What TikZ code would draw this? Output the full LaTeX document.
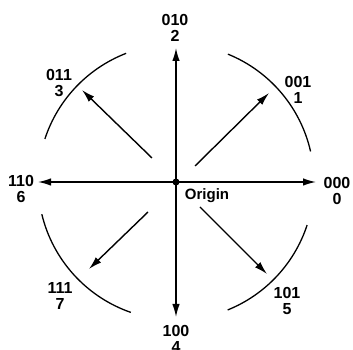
\documentclass[tikz,border=0pt]{standalone}
\usepackage{fontspec}
\setmainfont{Liberation Sans}
\usetikzlibrary{arrows.meta}
\tikzset{
  vec/.style={line width=1.4pt,-{Latex[length=13pt,width=7.5pt]}},
  rim/.style={line width=1.3pt},
  lbl/.style={align=center,inner sep=0pt,font=\fontsize{16}{16}\selectfont\bfseries},
}
\begin{document}
\begin{tikzpicture}[x=1pt,y=1pt]
\useasboundingbox (0,0) rectangle (353,350);
\coordinate (O) at (176,168);
% arcs
\draw[rim] (O) ++(67.9:138) arc[start angle=67.9,end angle=12.8,radius=138];
\draw[rim] (O) ++(111.2:138) arc[start angle=111.2,end angle=161.8,radius=138];
\draw[rim] (O) ++(193.5:138) arc[start angle=193.5,end angle=250.9,radius=138];
\draw[rim] (O) ++(292:138) arc[start angle=292,end angle=341.8,radius=138];
% end points
\coordinate (up) at (176,302);
\coordinate (dn) at (176,33);
\coordinate (lf) at (38,168);
\coordinate (rt) at (316,168);
\coordinate (neS) at (195,184);
\coordinate (neE) at (269,257);
\coordinate (nwS) at (152,192);
\coordinate (nwE) at (82,260);
\coordinate (swS) at (148,138);
\coordinate (swE) at (89,81);
\coordinate (seS) at (200,143);
\coordinate (seE) at (267,76);
% arrows
\draw[vec] (O) -- (up);
\draw[vec] (O) -- (dn);
\draw[vec] (O) -- (lf);
\draw[vec] (O) -- (rt);
\draw[vec] (neS) -- (neE);
\draw[vec] (nwS) -- (nwE);
\draw[vec] (swS) -- (swE);
\draw[vec] (seS) -- (seE);
\fill (O) circle[radius=3.5];
% labels
\node[lbl] (l2) at (175,322) {010\\2};
\node[lbl] (l3) at (59,267) {011\\3};
\node[lbl] (l1) at (298,260) {001\\1};
\node[lbl] (l6) at (21,161) {110\\6};
\node[lbl] (l0) at (337,159) {000\\0};
\node[lbl] (l7) at (60,54) {111\\7};
\node[lbl] (l5) at (287,49) {101\\5};
\node[lbl] (l4) at (176,11) {100\\4};
\node[lbl,font=\fontsize{15}{15}\selectfont\bfseries] (orig) at (207,154) {Origin};
\end{tikzpicture}
\end{document}
